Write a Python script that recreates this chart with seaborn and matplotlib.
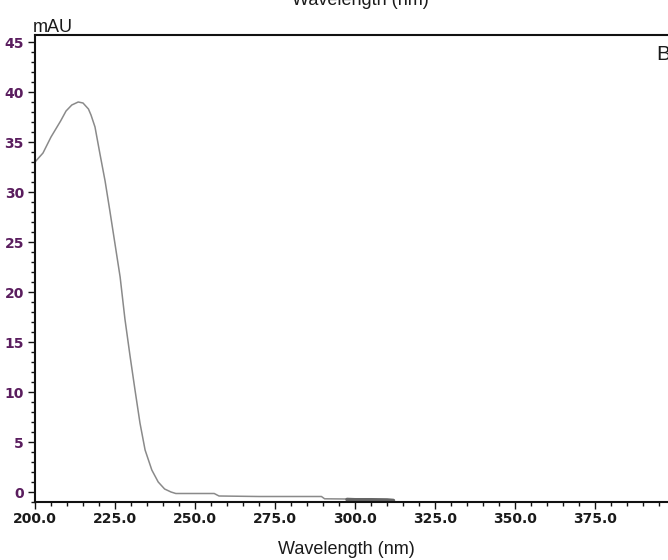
import numpy as np
import pandas as pd
import matplotlib
matplotlib.use("Agg")
import matplotlib.pyplot as plt
from matplotlib.ticker import MultipleLocator, FormatStrFormatter
import seaborn as sns

# ---- data ----
wavelength = [200.0, 202.5, 205.0, 208.0, 209.7, 211.5, 213.5, 215.0, 216.7,
              217.5, 218.75, 220.3, 221.9, 223.4, 225.0, 226.6, 228.1, 229.7,
              231.25, 232.8, 234.4, 236.5, 238.5, 240.5, 242.5, 244.0, 250.0,
              256.0, 257.5, 270.0, 289.5, 290.5, 297.5]
absorbance = [33.0, 33.9, 35.5, 37.1, 38.1, 38.7, 39.0, 38.9, 38.3,
              37.7, 36.5, 33.8, 31.1, 28.1, 24.8, 21.5, 17.3, 13.6,
              10.2, 6.9, 4.2, 2.2, 1.0, 0.3, 0.0, -0.15, -0.15,
              -0.15, -0.4, -0.45, -0.45, -0.68, -0.7]
# darker, noisy tail near the end of the scan
tail_wavelength = [297.5, 300.0, 305.0, 310.0, 312.0]
tail_absorbance = [-0.75, -0.78, -0.78, -0.8, -0.85]

x_ticks = [200.0, 225.0, 250.0, 275.0, 300.0, 325.0, 350.0, 375.0]
y_ticks = [0, 5, 10, 15, 20, 25, 30, 35, 40, 45]

df = pd.DataFrame({"Wavelength": wavelength, "mAU": absorbance})
df_tail = pd.DataFrame({"Wavelength": tail_wavelength, "mAU": tail_absorbance})

sns.set_style("ticks")
plt.rcParams["font.family"] = ["DejaVu Sans"]

W, H = 668, 560
fig = plt.figure(figsize=(W / 100, H / 100), dpi=100)
ax = fig.add_axes([35 / W, 1 - 502 / H, 1 - 35 / W, (502 - 35) / H])

sns.lineplot(data=df, x="Wavelength", y="mAU", ax=ax, color="#8a8a8a",
             linewidth=1.1, sort=False)
sns.lineplot(data=df_tail, x="Wavelength", y="mAU", ax=ax, color="#666666",
             linewidth=2.6, sort=False)

ax.set_xlim(200, 397.8)
ax.set_ylim(-1.0, 45.7)
ax.set_xticks(x_ticks)
ax.set_yticks(y_ticks)
ax.xaxis.set_major_formatter(FormatStrFormatter("%.1f"))
ax.xaxis.set_minor_locator(MultipleLocator(5))
ax.yaxis.set_minor_locator(MultipleLocator(1))

ax.tick_params(axis="both", which="major", direction="out", length=5,
               width=1.0, color="#111111")
ax.tick_params(axis="both", which="minor", direction="out", length=3,
               width=1.0, color="#111111")
ax.tick_params(axis="x", which="major", pad=2, labelsize=10,
               labelcolor="#1a1a1a")
ax.tick_params(axis="y", which="major", pad=3, labelsize=10,
               labelcolor="#5a1d5e")
for lab in ax.get_xticklabels() + ax.get_yticklabels():
    lab.set_fontweight("bold")

for side in ["left", "bottom", "top"]:
    ax.spines[side].set_visible(True)
    ax.spines[side].set_color("#111111")
    ax.spines[side].set_linewidth(1.5)
ax.spines["right"].set_visible(False)

ax.set_xlabel("")
ax.set_ylabel("")

narrow = ["Liberation Sans Narrow", "Liberation Sans", "DejaVu Sans"]
fig.text(346 / W, 1 - 554 / H, "Wavelength (nm)", ha="center",
         va="baseline", fontsize=13, family=narrow, color="#1a1a1a")
fig.text(360 / W, 1 - 5 / H, "Wavelength (nm)", ha="center",
         va="baseline", fontsize=13, family=narrow, color="#1a1a1a")
fig.text(33 / W, 1 - 32 / H, "mAU", ha="left", va="baseline",
         fontsize=13, family=narrow, color="#1a1a1a")
fig.text(656 / W, 1 - 60 / H, "B", ha="left", va="baseline",
         fontsize=15, family=narrow, color="#1a1a1a")

fig.savefig("out.png", dpi=100)
